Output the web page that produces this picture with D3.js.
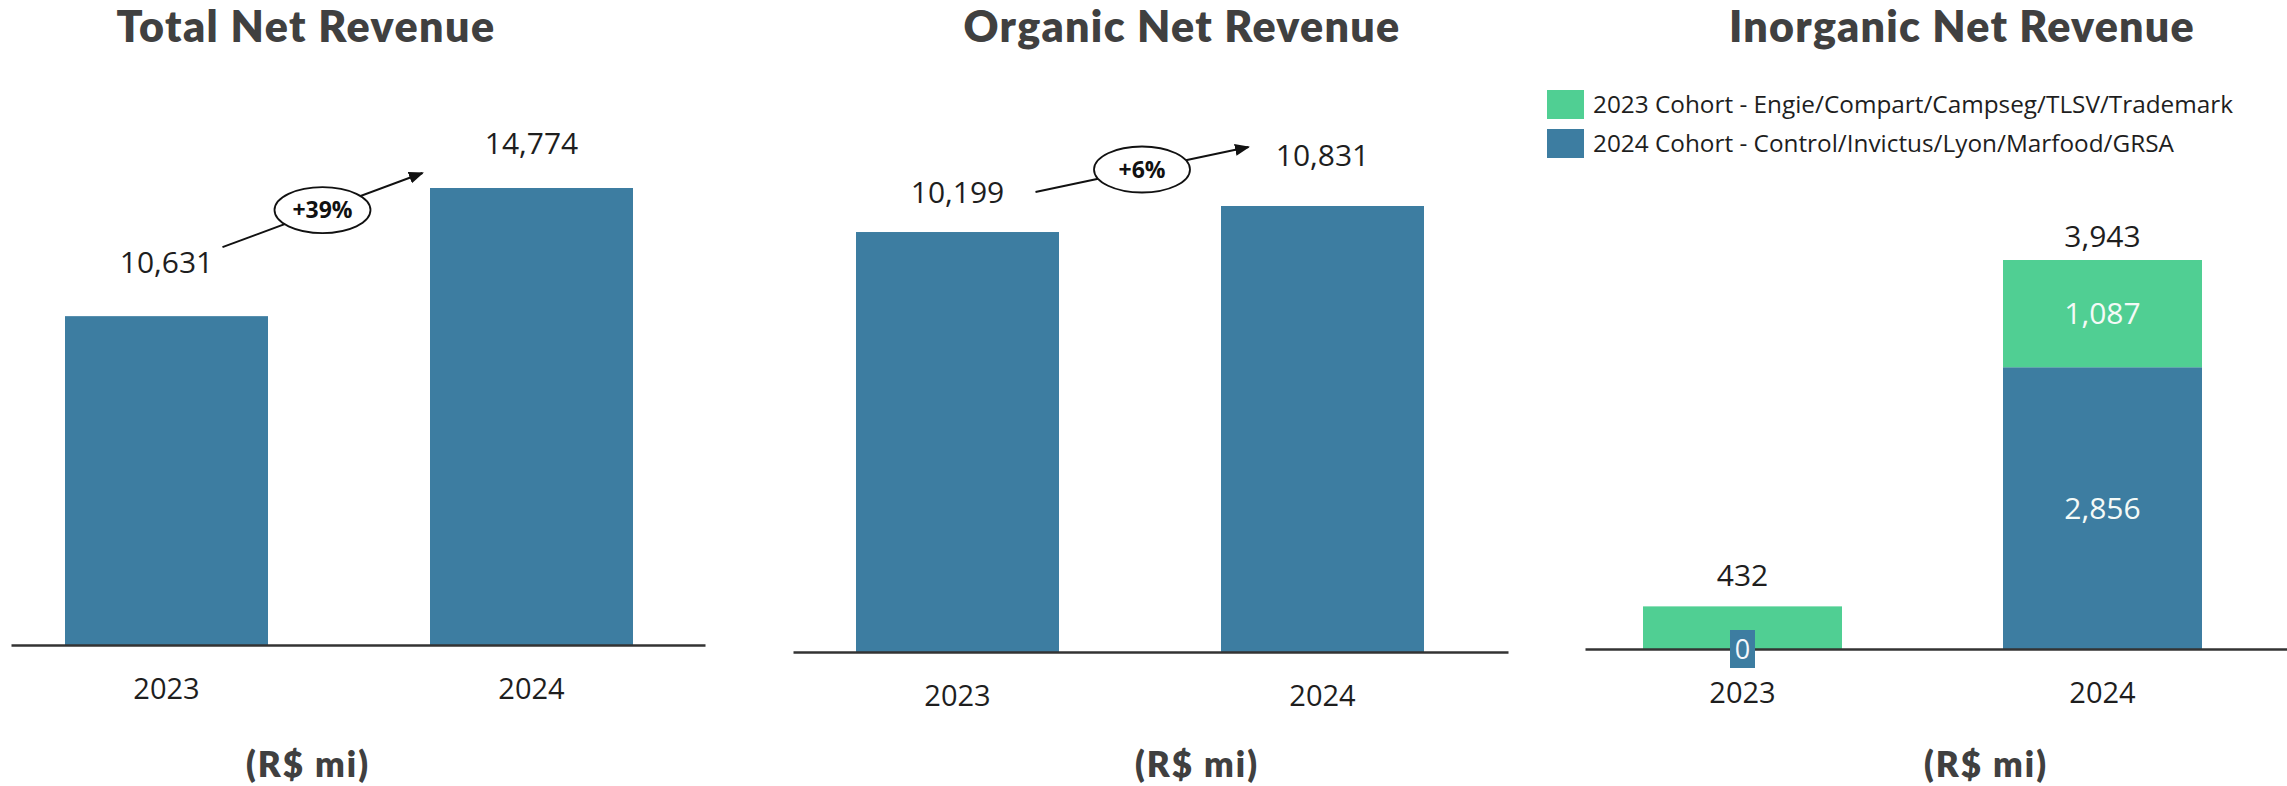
<!DOCTYPE html>
<html>
<head>
<meta charset="utf-8">
<script src="https://cdn.jsdelivr.net/npm/d3@7"></script>
<style>
  html, body { margin: 0; padding: 0; background: #ffffff; }
  svg { display: block; }
</style>
</head>
<body>
<svg id="chart" width="2287" height="786"></svg>
<script>
// ---- data ----
const years = ["2023", "2024"];
const totalRevenue = [10631, 14774];
const organicRevenue = [10199, 10831];
const cohort2023Values = [432, 1087];
const cohort2024Values = [0, 2856];
const growthLabels = ["+39%", "+6%"];
const panelTitles = ["Total Net Revenue", "Organic Net Revenue", "Inorganic Net Revenue"];
const unitLabel = "(R$ mi)";
const cohortNames = [
  "2023 Cohort - Engie/Compart/Campseg/TLSV/Trademark",
  "2024 Cohort - Control/Invictus/Lyon/Marfood/GRSA"
];

// ---- styling ----
const BLUE = "#3d7da1";
const GREEN = "#50cf93";
const TITLE_COLOR = "#404040";
const TEXT_COLOR = "#1e1e1e";
const fmt = d3.format(",");
const LABEL_FONT = "'Open Sans', 'Noto Sans', sans-serif";
const TITLE_FONT = "Lato, 'Open Sans', sans-serif";

// panel geometry: axis extent, first bar edge, bar width, step between bars,
// baseline / top pixel rows, title and unit placement, value label gaps
const panels = [
  { axis: [11, 705],   barStart: 65,   barWidth: 203, step: 365, base: 645, top: 188,
    titleX: 306,  titleW: 379, unitX: 308,  labelGap: [43, 34] },
  { axis: [793, 1508], barStart: 856,  barWidth: 203, step: 365, base: 652, top: 206,
    titleX: 1182, titleW: 437, unitX: 1197, labelGap: [29, 40] },
  { axis: [1585, 2287], barStart: 1643, barWidth: 199, step: 360, base: 649, top: 260,
    titleX: 1962, titleW: 466, unitX: 1986, labelGap: [20, 13] }
];
// growth arrow offsets relative to the two value labels (start / end)
const arrowOffsets = [
  { start: [56, -26], end: [-109, 19] },
  { start: [78, -11], end: [-74, -19] }
];

const svg = d3.select("#chart");

svg.append("defs").append("marker")
  .attr("id", "arrowHead")
  .attr("viewBox", "0 0 10 10")
  .attr("refX", 9).attr("refY", 5)
  .attr("markerUnits", "userSpaceOnUse")
  .attr("markerWidth", 15).attr("markerHeight", 15)
  .attr("orient", "auto")
  .append("path")
  .attr("d", "M0,1 L10,5 L0,9 Z")
  .attr("fill", "#111");

function bandFor(p) {
  const L = p.axis[1] - p.axis[0];
  const outer = L - (p.step + p.barWidth);
  return d3.scaleBand()
    .domain(years)
    .range(p.axis)
    .paddingInner(1 - p.barWidth / p.step)
    .paddingOuter(outer / (2 * p.step))
    .align((p.barStart - p.axis[0]) / outer);
}

// widen a text to a target width by spreading its letters
function spreadTo(sel, target) {
  const node = sel.node();
  const w = node.getComputedTextLength();
  const n = sel.text().length;
  if (n > 1) sel.attr("letter-spacing", ((target - w) / n).toFixed(2));
}

function drawFrame(i, x) {
  const p = panels[i];
  const g = svg.append("g");
  // title
  const t = g.append("text")
    .attr("x", p.titleX).attr("y", 42)
    .attr("text-anchor", "middle")
    .attr("font-family", TITLE_FONT).attr("font-weight", 800)
    .attr("font-size", 43).attr("fill", TITLE_COLOR)
    .text(panelTitles[i]);
  spreadTo(t, p.titleW);
  // unit
  const u = g.append("text")
    .attr("x", p.unitX).attr("y", 777)
    .attr("text-anchor", "middle")
    .attr("font-family", TITLE_FONT).attr("font-weight", 800)
    .attr("font-size", 35).attr("fill", TITLE_COLOR)
    .text(unitLabel);
  spreadTo(u, 124);
  return g;
}

function drawAxis(g, p, x) {
  const ax = g.append("g")
    .attr("transform", `translate(0,${p.base})`)
    .call(d3.axisBottom(x).tickSize(0).tickPadding(33));
  ax.select(".domain").attr("stroke", "#333").attr("stroke-width", 2.5);
  ax.selectAll(".tick text")
    .attr("font-family", LABEL_FONT).attr("font-size", 29).attr("fill", TEXT_COLOR);
}

function drawGrowth(g, i, a, b, label) {
  const o = arrowOffsets[i];
  const x1 = a[0] + o.start[0], y1 = a[1] + o.start[1];
  const x2 = b[0] + o.end[0], y2 = b[1] + o.end[1];
  g.append("line")
    .attr("x1", x1).attr("y1", y1).attr("x2", x2).attr("y2", y2)
    .attr("stroke", "#111").attr("stroke-width", 2)
    .attr("marker-end", "url(#arrowHead)");
  const cx = (x1 + x2) / 2, cy = (y1 + y2) / 2;
  g.append("ellipse")
    .attr("cx", cx).attr("cy", cy).attr("rx", 48).attr("ry", 23)
    .attr("fill", "#fff").attr("stroke", "#111").attr("stroke-width", 1.8);
  g.append("text")
    .attr("x", cx).attr("y", cy).attr("dy", "0.36em")
    .attr("text-anchor", "middle")
    .attr("font-family", LABEL_FONT).attr("font-weight", 700)
    .attr("font-size", 23).attr("fill", "#111")
    .text(label);
}

// ---- simple bar panels (total and organic) ----
[totalRevenue, organicRevenue].forEach((values, i) => {
  const p = panels[i];
  const x = bandFor(p);
  const y = d3.scaleLinear().domain([0, d3.max(values)]).range([p.base, p.top]);
  const g = drawFrame(i, x);

  g.selectAll("rect.bar").data(values).join("rect")
    .attr("class", "bar")
    .attr("x", (d, j) => x(years[j]))
    .attr("width", x.bandwidth())
    .attr("y", d => y(d))
    .attr("height", d => y(0) - y(d))
    .attr("fill", BLUE);

  drawAxis(g, p, x);

  const anchors = values.map((d, j) => [x(years[j]) + x.bandwidth() / 2, y(d) - p.labelGap[j]]);
  g.selectAll("text.value").data(values).join("text")
    .attr("class", "value")
    .attr("x", (d, j) => anchors[j][0])
    .attr("y", (d, j) => anchors[j][1])
    .attr("text-anchor", "middle")
    .attr("font-family", LABEL_FONT).attr("font-size", 30).attr("fill", TEXT_COLOR)
    .text(d => fmt(d));

  drawGrowth(g, i, anchors[0], anchors[1], growthLabels[i]);
});

// ---- stacked inorganic panel ----
(function () {
  const i = 2;
  const p = panels[i];
  const x = bandFor(p);
  const rows = years.map((yr, j) => ({ year: yr, c2024: cohort2024Values[j], c2023: cohort2023Values[j] }));
  const keys = ["c2024", "c2023"];
  const colors = { c2024: BLUE, c2023: GREEN };
  const series = d3.stack().keys(keys)(rows);
  const totals = rows.map(r => r.c2024 + r.c2023);
  const y = d3.scaleLinear().domain([0, d3.max(totals)]).range([p.base, p.top]);
  const g = drawFrame(i, x);

  const layer = g.selectAll("g.layer").data(series).join("g")
    .attr("class", "layer").attr("fill", s => colors[s.key]);
  layer.selectAll("rect").data(s => s).join("rect")
    .attr("x", d => x(d.data.year))
    .attr("width", x.bandwidth())
    .attr("y", d => y(d[1]))
    .attr("height", d => y(d[0]) - y(d[1]));

  drawAxis(g, p, x);

  // segment labels (white, centred in each segment)
  series.forEach(s => {
    s.forEach(d => {
      const v = d[1] - d[0];
      const cx = x(d.data.year) + x.bandwidth() / 2;
      const cy = (y(d[0]) + y(d[1])) / 2;
      if (v === 0) {
        // zero-height segment: label sits on a filled tag at the baseline
        g.append("rect")
          .attr("x", cx - 12.5).attr("y", cy - 19)
          .attr("width", 25).attr("height", 38)
          .attr("fill", colors[s.key]);
        g.append("text")
          .attr("x", cx).attr("y", cy).attr("dy", "0.36em")
          .attr("text-anchor", "middle")
          .attr("font-family", LABEL_FONT).attr("font-size", 27).attr("fill", "#f4f8fb")
          .text(fmt(v));
      } else if (s.key === "c2024" || d.data.year === "2024") {
        g.append("text")
          .attr("x", cx).attr("y", cy).attr("dy", "0.36em")
          .attr("text-anchor", "middle")
          .attr("font-family", LABEL_FONT).attr("font-size", 30).attr("fill", "#f4faf7")
          .text(fmt(v));
      }
    });
  });

  // totals above each stack
  g.selectAll("text.total").data(totals).join("text")
    .attr("class", "total")
    .attr("x", (d, j) => x(years[j]) + x.bandwidth() / 2)
    .attr("y", (d, j) => y(d) - p.labelGap[j])
    .attr("text-anchor", "middle")
    .attr("font-family", LABEL_FONT).attr("font-size", 30).attr("fill", TEXT_COLOR)
    .text(d => fmt(d));

  // legend
  const legendColors = [GREEN, BLUE];
  const lg = g.append("g").attr("transform", "translate(1547,90)");
  let legendSize = null;
  cohortNames.forEach((name, j) => {
    lg.append("rect")
      .attr("x", 0).attr("y", j * 39)
      .attr("width", 37).attr("height", 29)
      .attr("fill", legendColors[j]);
    const lt = lg.append("text")
      .attr("x", 46).attr("y", j * 39 + 14.5).attr("dy", "0.36em")
      .attr("font-family", LABEL_FONT).attr("font-size", 22).attr("fill", TEXT_COLOR)
      .text(name);
    if (legendSize === null) {
      legendSize = (22 * 640 / lt.node().getComputedTextLength()).toFixed(2);
    }
    lt.attr("font-size", legendSize);
  });
})();
</script>
</body>
</html>
